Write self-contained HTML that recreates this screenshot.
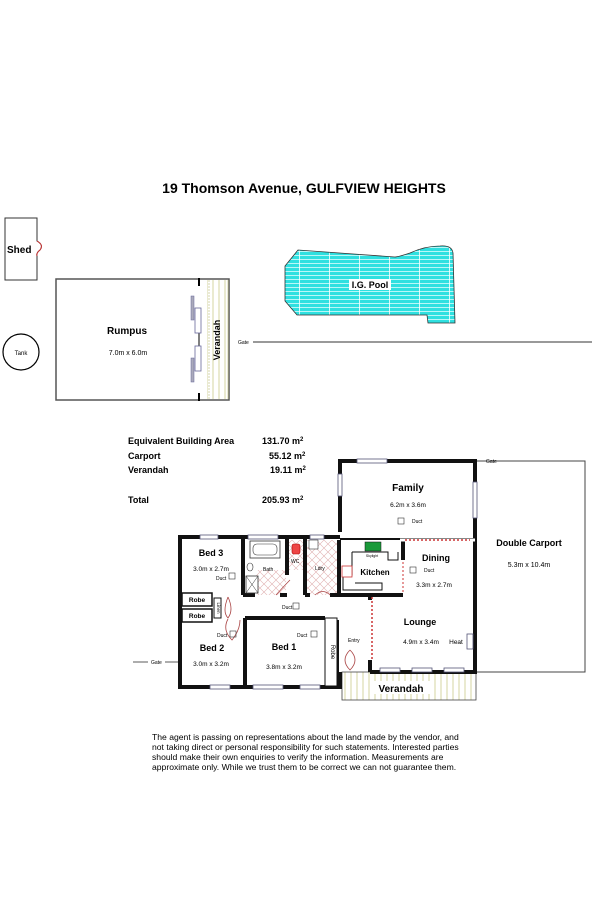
<!DOCTYPE html>
<html><head><meta charset="utf-8"><style>
html,body{margin:0;padding:0;background:#fff;}
svg{display:block;font-family:"Liberation Sans",Arial,sans-serif;}
</style></head><body>
<svg width="600" height="901" viewBox="0 0 600 901" xmlns="http://www.w3.org/2000/svg">
<defs>
<pattern id="pool" width="30" height="4" patternUnits="userSpaceOnUse">
<rect width="30" height="4" fill="#2fe0e0"/><line x1="0" y1="3.5" x2="30" y2="3.5" stroke="#e8ffff" stroke-width="0.8"/><line x1="29.5" y1="0" x2="29.5" y2="4" stroke="#fff" stroke-width="0.8"/>
</pattern>
<pattern id="ver" width="6" height="10" patternUnits="userSpaceOnUse">
<line x1="3" y1="0" x2="3" y2="10" stroke="#c9c98a" stroke-width="0.8"/>
</pattern>
<pattern id="hatch" width="8" height="8" patternUnits="userSpaceOnUse">
<path d="M0 0L8 8M8 0L0 8" stroke="#e0b0b0" stroke-width="0.6"/>
</pattern>
</defs>
<text x="304" y="193" font-size="14" font-weight="bold" text-anchor="middle">19 Thomson Avenue, GULFVIEW HEIGHTS</text>

<!-- shed -->
<path d="M5 218H37V241Q44 245 40 250Q36 253 37 256V280H5Z" fill="#fff" stroke="#333" stroke-width="1"/>
<path d="M37 241Q44 245 40 250Q36 253 37 256" fill="none" stroke="#c33" stroke-width="1"/>
<text x="7" y="253" font-size="10" font-weight="bold">Shed</text>
<!-- tank -->
<circle cx="21" cy="352" r="18" fill="#fff" stroke="#000" stroke-width="1.2"/>
<text x="21" y="355" font-size="6" text-anchor="middle">Tank</text>
<!-- rumpus -->
<rect x="56" y="279" width="173" height="121" fill="#fff" stroke="#555" stroke-width="1.5"/>
<rect x="207" y="280" width="22" height="119" fill="url(#ver)"/>
<line x1="209" y1="280" x2="209" y2="399" stroke="#cc9" stroke-width="0.8" stroke-dasharray="2,1"/>
<line x1="228" y1="280" x2="228" y2="399" stroke="#cc9" stroke-width="0.8"/>
<line x1="199" y1="278" x2="199" y2="286" stroke="#000" stroke-width="2"/>
<line x1="199" y1="393" x2="199" y2="401" stroke="#000" stroke-width="2"/>
<line x1="199" y1="325" x2="199" y2="348" stroke="#000" stroke-width="1"/>
<rect x="191" y="296" width="3" height="24" fill="#aab" stroke="#669" stroke-width="0.5"/>
<rect x="195" y="308" width="6" height="25" fill="#fff" stroke="#669" stroke-width="0.8"/>
<rect x="195" y="346" width="6" height="25" fill="#fff" stroke="#669" stroke-width="0.8"/>
<rect x="191" y="358" width="3" height="24" fill="#aab" stroke="#669" stroke-width="0.5"/>
<text x="127" y="334" font-size="10" font-weight="bold" text-anchor="middle">Rumpus</text>
<text x="128" y="355" font-size="7" text-anchor="middle">7.0m x 6.0m</text>
<text x="220" y="340" font-size="9" font-weight="bold" transform="rotate(-90 220 340)" text-anchor="middle">Verandah</text>
<text x="238" y="344" font-size="5">Gate</text>
<line x1="253" y1="342" x2="592" y2="342" stroke="#333" stroke-width="1"/>
<!-- pool -->
<path d="M298 250L285 266L285 301L297 315L427 315L428 323L455 323L453 253Q452 245 440 246Q425 246 410 253Q398 257 395 257Z" fill="url(#pool)" stroke="#333" stroke-width="0.8"/>
<rect x="349" y="279" width="42" height="11" fill="#fff"/>
<text x="370" y="288" font-size="9" font-weight="bold" text-anchor="middle">I.G. Pool</text>

<!-- stats -->
<g font-size="9" font-weight="bold">
<text x="128" y="444">Equivalent Building Area</text><text x="262" y="444">131.70  m<tspan font-size="6" dy="-3">2</tspan></text>
<text x="128" y="459">Carport</text><text x="269" y="459">55.12  m<tspan font-size="6" dy="-3">2</tspan></text>
<text x="128" y="473">Verandah</text><text x="270" y="473">19.11   m<tspan font-size="6" dy="-3">2</tspan></text>
<text x="128" y="503">Total</text><text x="262" y="503">205.93 m<tspan font-size="6" dy="-3">2</tspan></text>
</g>

<!-- carport -->
<path d="M476 461H585V672H476" fill="none" stroke="#444" stroke-width="1"/>
<text x="486" y="463" font-size="5">Gate</text>
<text x="529" y="546" font-size="9" font-weight="bold" text-anchor="middle">Double Carport</text>
<text x="529" y="567" font-size="7" text-anchor="middle">5.3m x 10.4m</text>
<!-- verandah front -->
<rect x="342" y="672" width="134" height="28" fill="url(#ver)" stroke="#444" stroke-width="0.8"/>
<rect x="370" y="681" width="62" height="13" fill="#fff"/>
<text x="401" y="692" font-size="10" font-weight="bold" text-anchor="middle">Verandah</text>
<!-- hatch laundry/bath -->
<rect x="307" y="540" width="30" height="55" fill="url(#hatch)"/>
<rect x="256" y="570" width="30" height="25" fill="url(#hatch)"/>
<rect x="289" y="540" width="16" height="30" fill="url(#hatch)"/>

<!-- walls -->
<g fill="none" stroke="#111" stroke-width="4">
<path d="M340 532V461H475V672H370"/>
<path d="M340 537H180V687H340V672"/>
<line x1="243" y1="537" x2="243" y2="595"/>
<line x1="287" y1="537" x2="287" y2="575"/>
<line x1="305" y1="537" x2="305" y2="595"/>
<line x1="339" y1="540" x2="339" y2="595"/>
<line x1="339" y1="595" x2="403" y2="595"/>
<line x1="403" y1="540" x2="403" y2="560"/>
<line x1="243" y1="595" x2="255" y2="595"/>
<line x1="280" y1="595" x2="287" y2="595"/>
<line x1="305" y1="595" x2="310" y2="595"/>
<line x1="330" y1="595" x2="339" y2="595"/>
<line x1="245" y1="618" x2="245" y2="687"/>
<line x1="245" y1="618" x2="325" y2="618"/>
<line x1="180" y1="618" x2="208" y2="618"/>
<line x1="370" y1="595" x2="370" y2="600"/>
<line x1="370" y1="660" x2="370" y2="672"/>
<line x1="337" y1="620" x2="337" y2="687"/>
</g>
<line x1="340" y1="539" x2="475" y2="539" stroke="#111" stroke-width="2"/>
<line x1="400" y1="540" x2="475" y2="540" stroke="#fff" stroke-width="3"/>
<line x1="405" y1="540" x2="470" y2="540" stroke="#c33" stroke-width="1.5" stroke-dasharray="2,2"/>
<line x1="372" y1="597" x2="372" y2="660" stroke="#c33" stroke-width="1.5" stroke-dasharray="2,2"/>
<line x1="403" y1="562" x2="403" y2="592" stroke="#c33" stroke-width="1" stroke-dasharray="2,2"/>
<rect x="325" y="618" width="12" height="68" fill="#fff" stroke="#111" stroke-width="1"/>
<text x="331" y="652" font-size="6" transform="rotate(90 331 652)" text-anchor="middle">Robe</text>
<rect x="182" y="593" width="30" height="13" fill="#fff" stroke="#111" stroke-width="1.5"/>
<rect x="182" y="609" width="30" height="13" fill="#fff" stroke="#111" stroke-width="1.5"/>
<text x="197" y="602" font-size="6.5" font-weight="bold" text-anchor="middle">Robe</text>
<text x="197" y="618" font-size="6.5" font-weight="bold" text-anchor="middle">Robe</text>
<rect x="214" y="598" width="7" height="20" fill="#fff" stroke="#111" stroke-width="1"/>
<text x="217" y="608" font-size="4.5" transform="rotate(90 217 608)" text-anchor="middle">Linen</text>
<!-- kitchen -->
<path d="M352 552V575H343V590H382V583H355" fill="none" stroke="#111" stroke-width="1"/>
<path d="M352 552H388V560H398V552" fill="none" stroke="#111" stroke-width="1"/>
<rect x="365" y="542" width="16" height="9" fill="#1a9a3a" stroke="#111" stroke-width="0.5"/>
<rect x="342" y="566" width="10" height="11" fill="#fff" stroke="#c33" stroke-width="0.8"/>
<text x="372" y="557" font-size="3.5" text-anchor="middle">Skylight</text>
<text x="375" y="575" font-size="8" font-weight="bold" text-anchor="middle">Kitchen</text>
<!-- bath fixtures -->
<rect x="250" y="541" width="30" height="17" fill="#fff" stroke="#333" stroke-width="0.8"/>
<rect x="253" y="544" width="24" height="11" rx="4" fill="#fff" stroke="#333" stroke-width="0.6"/>
<rect x="246" y="576" width="12" height="17" fill="#fff" stroke="#333" stroke-width="0.8"/>
<path d="M246 576L258 593M258 576L246 593" stroke="#333" stroke-width="0.5"/>
<ellipse cx="250" cy="567" rx="3" ry="4" fill="#fff" stroke="#333" stroke-width="0.6"/>
<rect x="292" y="544" width="8" height="10" rx="2" fill="#e44" stroke="#a00" stroke-width="0.6"/>
<rect x="309" y="540" width="9" height="9" fill="#fff" stroke="#333" stroke-width="0.6"/>
<!-- windows -->
<g fill="#fff" stroke="#557" stroke-width="0.8">
<rect x="357" y="459" width="30" height="4"/>
<rect x="473" y="482" width="4" height="36"/>
<rect x="338" y="474" width="4" height="22"/>
<rect x="200" y="535" width="18" height="4"/>
<rect x="248" y="535" width="30" height="4"/>
<rect x="310" y="535" width="14" height="4"/>
<rect x="210" y="685" width="20" height="4"/>
<rect x="253" y="685" width="30" height="4"/>
<rect x="300" y="685" width="20" height="4"/>
<rect x="380" y="668" width="20" height="4"/>
<rect x="412" y="668" width="20" height="4"/>
<rect x="444" y="668" width="20" height="4"/>
<rect x="467" y="634" width="6" height="15"/>
</g>
<!-- door swings -->
<g fill="none" stroke="#a44" stroke-width="0.8">
<path d="M228 597Q222 612 228 618Q234 610 228 597"/>
<path d="M228 619Q222 630 232 640Q240 630 240 620"/>
<path d="M350 650Q340 660 350 670Q360 660 350 650"/>
<path d="M276 595Q285 585 290 580"/>
<path d="M315 595Q323 588 330 595"/>
</g>
<g fill="none" stroke="#333" stroke-width="0.6">
<rect x="229" y="573" width="6" height="6"/><rect x="293" y="603" width="6" height="6"/>
<rect x="230" y="631" width="6" height="6"/><rect x="311" y="631" width="6" height="6"/>
<rect x="398" y="518" width="6" height="6"/><rect x="410" y="567" width="6" height="6"/>
</g>
<!-- labels -->
<g font-weight="bold" text-anchor="middle">
<text x="408" y="491" font-size="10">Family</text>
<text x="211" y="556" font-size="9">Bed 3</text>
<text x="436" y="561" font-size="9">Dining</text>
<text x="420" y="625" font-size="9">Lounge</text>
<text x="212" y="651" font-size="9">Bed 2</text>
<text x="284" y="650" font-size="9">Bed 1</text>
</g>
<g font-size="6.5" text-anchor="middle">
<text x="408" y="507">6.2m x 3.6m</text>
<text x="211" y="571">3.0m x 2.7m</text>
<text x="434" y="587">3.3m x 2.7m</text>
<text x="421" y="644">4.9m x 3.4m</text>
<text x="211" y="666">3.0m x 3.2m</text>
<text x="284" y="669">3.8m x 3.2m</text>
<text x="456" y="644">Heat</text>
</g>
<g font-size="5">
<text x="412" y="523">Duct</text><text x="216" y="580">Duct</text><text x="282" y="609">Duct</text>
<text x="217" y="637">Duct</text><text x="297" y="637">Duct</text><text x="424" y="572">Duct</text>
<text x="263" y="571">Bath</text><text x="291" y="563">WC</text><text x="315" y="570">Ldry</text>
<text x="348" y="642">Entry</text>
</g>
<line x1="133" y1="662" x2="148" y2="662" stroke="#333" stroke-width="0.8"/>
<text x="151" y="664" font-size="5">Gate</text>
<line x1="165" y1="662" x2="178" y2="662" stroke="#333" stroke-width="0.8"/>

<!-- disclaimer -->
<g font-size="8.6">
<text x="152" y="740">The agent is passing on representations about the land made by the vendor, and</text>
<text x="152" y="750">not taking direct or personal responsibility for such statements. Interested parties</text>
<text x="152" y="760">should make their own enquiries to verify the information. Measurements are</text>
<text x="152" y="770">approximate only. While we trust them to be correct we can not guarantee them.</text>
</g>
</svg>
</body></html>
